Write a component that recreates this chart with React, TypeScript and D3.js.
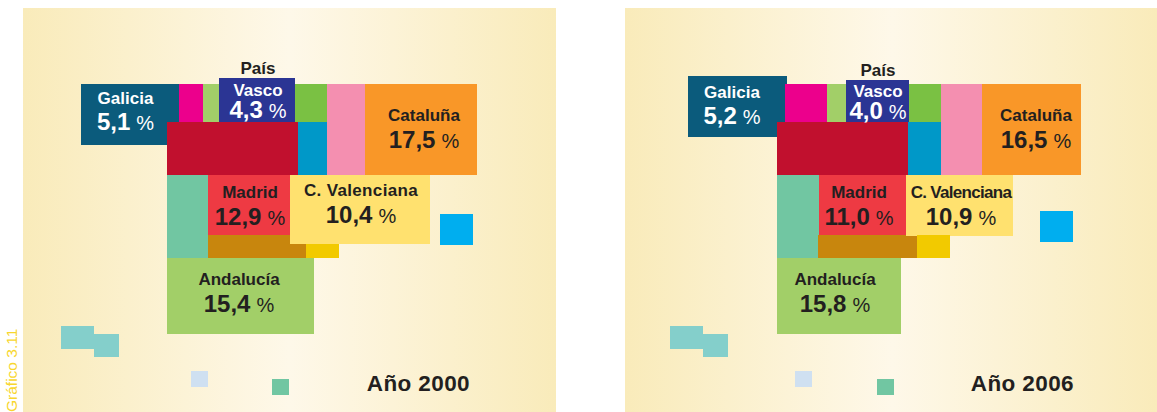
import React from "react";
import * as d3 from "d3";

const WIDTH = 1157;
const HEIGHT = 412;

const regions = ["Galicia", "Magenta", "Verde claro", "País Vasco", "Verde", "Azul", "Rosa", "Cataluña", "Rojo", "Verde agua", "Madrid", "Ocre", "C. Valenciana", "Amarillo", "Baleares", "Andalucía", "Canarias O", "Canarias E", "Ceuta", "Melilla"];
const colors = ["#0B5B7C", "#EC008C", "#A2CF68", "#2B3594", "#7AC143", "#0098C8", "#F48FB0", "#F99728", "#C1102E", "#71C6A2", "#EE3A43", "#C8860D", "#FFE16F", "#F2CA00", "#00AEEF", "#A2CF68", "#84CFCB", "#84CFCB", "#CFE0F1", "#71C6A2"];

// Cartogram cells, in map units: [x0, y0, x1, y1]
const cells2000 = [
  [58, 76, 156, 137], [156, 76, 180, 114], [180, 76, 196, 114], [196, 70, 272, 114], [272, 76, 304, 114],
  [275, 114, 304, 167], [304, 76, 342, 167], [342, 76, 454, 167], [144, 114, 275, 167], [144, 167, 185, 250],
  [185, 167, 267, 227], [185, 227, 283, 250], [267, 167, 407, 236], [283, 236, 316, 250], [417, 206, 450, 237],
  [144, 250, 291, 326], [38, 318, 71, 341], [71, 326, 96, 349], [168, 363, 185, 379], [249, 371, 266, 387],
];
const cells2006 = [
  [63, 68, 162, 129], [160, 76, 202, 114], [202, 76, 221, 114], [221, 72, 284, 114], [283, 76, 316, 114],
  [283, 114, 316, 167], [316, 76, 357, 167], [357, 76, 456, 167], [152, 114, 283, 167], [152, 167, 194, 250],
  [194, 167, 281, 227], [193, 227, 292, 250], [281, 167, 388, 228], [292, 227, 325, 250], [415, 203, 448, 234],
  [152, 250, 276, 326], [45, 318, 78, 341], [78, 326, 103, 349], [170, 363, 187, 379], [252, 371, 269, 387],
];

// Draw order: later cells lie over earlier ones
const drawOrder = [0, 1, 2, 4, 3, 5, 6, 7, 8, 9, 10, 11, 12, 13, 14, 15, 16, 17, 18, 19];

const labelNames = ["Galicia", "Vasco", "Cataluña", "Madrid", "C. Valenciana", "Andalucía"];
const labelColors = ["#FFFFFF", "#FFFFFF", "#231F20", "#231F20", "#231F20", "#231F20"];
const values2000 = ["5,1", "4,3", "17,5", "12,9", "10,4", "15,4"];
const values2006 = ["5,2", "4,0", "16,5", "11,0", "10,9", "15,8"];
// Label anchors in map units: [centre x, name baseline, value baseline]
const anchors2000 = [[102.5, 96, 122], [235, 88, 110], [401, 113, 140], [227, 190, 217], [338, 188, 215], [216, 277, 304]];
const anchors2006 = [[107, 90, 116], [253, 89, 111], [411, 113, 140], [234, 190, 217], [336, 190, 217], [210, 277, 304]];
const paisAnchor2000 = [235, 66];
const paisAnchor2006 = [253, 68];
const nameSpacing2000 = [0, 0, 0, 0, 0.35, 0];
const nameSpacing2006 = [0, 0, 0, 0, -0.7, 0];

const panelOrigins = [23, 625];
const panelWidth = 533;
const panelTop = 8;
const titles = ["Año 2000", "Año 2006"];
const titleAnchors = [[447, 383], [449, 383]];

const gradientOffsets = [0, 0.5, 1];
const gradientColors = ["#F9EBBA", "#FEF8E9", "#F9EBBA"];

const fontFamily = "'Liberation Sans', Arial, sans-serif";

function Panel({ idx, cells, values, anchors, pais, spacing }: any) {
  const x = d3.scaleLinear().domain([0, panelWidth]).range([panelOrigins[idx], panelOrigins[idx] + panelWidth]);
  const y = d3.scaleLinear().domain([0, HEIGHT - panelTop]).range([panelTop, HEIGHT]);
  return (
    <g fontFamily={fontFamily}>
      <rect x={x(0)} y={y(0)} width={panelWidth} height={HEIGHT - panelTop} fill="url(#panelGrad)" />
      {drawOrder.map((i) => {
        const [a, b, c, e] = cells[i];
        return <rect key={regions[i]} x={x(a)} y={y(b)} width={x(c) - x(a)} height={y(e) - y(b)} fill={colors[i]} />;
      })}
      <text x={x(pais[0])} y={y(pais[1])} textAnchor="middle" fontSize={17} fontWeight={700} fill="#231F20">País</text>
      {labelNames.map((n, i) => (
        <g key={n} textAnchor="middle" fill={labelColors[i]}>
          <text x={x(anchors[i][0])} y={y(anchors[i][1])} fontSize={17} fontWeight={700} letterSpacing={spacing[i]}>{n}</text>
          <text x={x(anchors[i][0])} y={y(anchors[i][2])}>
            <tspan fontSize={24} fontWeight={700}>{values[i]}</tspan>
            <tspan fontSize={20} fontWeight={400} dx={6}>%</tspan>
          </text>
        </g>
      ))}
      <text x={x(titleAnchors[idx][0])} y={y(titleAnchors[idx][1])} textAnchor="end" fontSize={22.5} fontWeight={700} letterSpacing={0.4} fill="#231F20">{titles[idx]}</text>
    </g>
  );
}

export default function App() {
  return (
    <svg width={WIDTH} height={HEIGHT} style={{ position: "fixed", left: 0, top: 0, background: "#FFFFFF" }}>
      <defs>
        <linearGradient id="panelGrad" x1="0" x2="1" y1="0" y2="0">
          {gradientOffsets.map((o, i) => <stop key={o} offset={o} stopColor={gradientColors[i]} />)}
        </linearGradient>
      </defs>
      <Panel idx={0} cells={cells2000} values={values2000} anchors={anchors2000} pais={paisAnchor2000} spacing={nameSpacing2000} />
      <Panel idx={1} cells={cells2006} values={values2006} anchors={anchors2006} pais={paisAnchor2006} spacing={nameSpacing2006} />
      <text transform="translate(17,412) rotate(-90)" fontFamily={fontFamily} fontSize={15.5} fill="#F8D62E">Gráfico 3.11</text>
    </svg>
  );
}
